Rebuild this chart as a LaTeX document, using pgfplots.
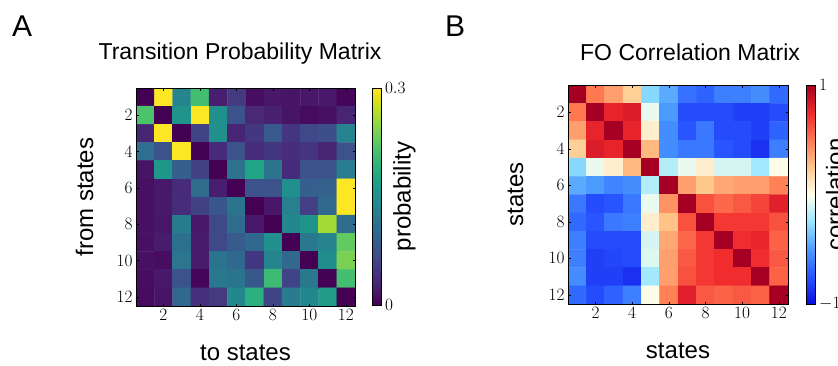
\documentclass[border=0pt]{standalone}
\usepackage{fontspec}
\setmainfont{Liberation Sans}
\usepackage{pgfplots}
\pgfplotsset{compat=1.18}
\pgfplotsset{
  colormap={corr}{rgb255(0cm)=(10,10,225); rgb255(1cm)=(40,85,255); rgb255(2cm)=(75,155,255); rgb255(3cm)=(150,230,255); rgb255(4cm)=(255,255,235); rgb255(5cm)=(255,200,140); rgb255(6cm)=(255,120,80); rgb255(7cm)=(240,40,45); rgb255(8cm)=(165,0,35)},
  mystyle/.style={
    anchor=south west, scale only axis,
    xmin=0.5, xmax=12.5, ymin=0.5, ymax=12.5, y dir=reverse,
    xtick={2,4,...,12}, ytick={2,4,...,12},
    axis on top, tick align=inside, major tick length=2.5pt,
    tick style={black, line width=0.4pt},
    axis line style={black, line width=0.6pt},
    tick label style={font=\fontsize{16.5}{19}\selectfont},
    label style={font=\fontsize{24}{28}\selectfont},
    title style={font=\fontsize{23}{27}\selectfont},
  }
}
\begin{document}
\begin{tikzpicture}
\path[use as bounding box] (0pt,0pt) rectangle (838pt,365pt);
\node[anchor=base west, inner sep=0, font=\fontsize{30}{36}\selectfont] at (12pt,328pt) {A};
\node[anchor=base west, inner sep=0, font=\fontsize{30}{36}\selectfont] at (445pt,328pt) {B};

\begin{axis}[mystyle, at={(136pt,59pt)}, width=219pt, height=218pt,
  colormap/viridis, point meta min=0, point meta max=0.3,
  title={Transition Probability Matrix},
  title style={at={(axis description cs:0.475,1)}, anchor=base, yshift=23pt},
  xlabel={to states}, ylabel={from states},
  xlabel style={at={(axis description cs:0.5,-0.248)}, anchor=base},
  ylabel style={at={(axis description cs:-0.196,0.5)}, anchor=base},
  colorbar,
  colorbar style={at={(parent axis.north east)}, anchor=north west, xshift=9pt,
    scale only axis, width=9pt, height=217pt,
    ytick={0,0.3}, yticklabels={$0$,$0.3$},
    axis line style={black, line width=0.5pt},
    major tick length=2pt, tick style={black},
    tick label style={font=\fontsize{16.5}{19}\selectfont},
    ylabel={probability},
    ylabel style={at={(axis description cs:4.22,0.5)}, anchor=base, font=\fontsize{24}{28}\selectfont},
  },
]
\addplot[matrix plot*, mesh/cols=12, point meta=explicit] table[row sep=\\, meta=c] {
x y c\\
1 1 0\\ 2 1 .30\\ 3 1 .135\\ 4 1 .21\\ 5 1 .025\\ 6 1 .05\\ 7 1 .01\\ 8 1 .018\\ 9 1 .015\\ 10 1 .018\\ 11 1 .02\\ 12 1 .003\\
1 2 .215\\ 2 2 0\\ 3 2 .155\\ 4 2 .30\\ 5 2 .15\\ 6 2 .075\\ 7 2 .033\\ 8 2 .027\\ 9 2 .015\\ 10 2 .008\\ 11 2 .012\\ 12 2 .03\\
1 3 .03\\ 2 3 .30\\ 3 3 0\\ 4 3 .06\\ 5 3 .15\\ 6 3 .03\\ 7 3 .048\\ 8 3 .084\\ 9 3 .045\\ 10 3 .065\\ 11 3 .072\\ 12 3 .135\\
1 4 .108\\ 2 4 .075\\ 3 4 .30\\ 4 4 0\\ 5 4 .036\\ 6 4 .075\\ 7 4 .037\\ 8 4 .048\\ 9 4 .038\\ 10 4 .045\\ 11 4 .03\\ 12 4 .075\\
1 5 .015\\ 2 5 .16\\ 3 5 .09\\ 4 5 .057\\ 5 5 0\\ 6 5 .114\\ 7 5 .175\\ 8 5 .114\\ 9 5 .035\\ 10 5 .075\\ 11 5 .075\\ 12 5 .126\\
1 6 .012\\ 2 6 .02\\ 3 6 .035\\ 4 6 .105\\ 5 6 .025\\ 6 6 0\\ 7 6 .075\\ 8 6 .075\\ 9 6 .15\\ 10 6 .09\\ 11 6 .095\\ 12 6 .30\\
1 7 .012\\ 2 7 .02\\ 3 7 .037\\ 4 7 .058\\ 5 7 .08\\ 6 7 .115\\ 7 7 0\\ 8 7 .018\\ 9 7 .13\\ 10 7 .055\\ 11 7 .10\\ 12 7 .30\\
1 8 .012\\ 2 8 .017\\ 3 8 .125\\ 4 8 .02\\ 5 8 .065\\ 6 8 .105\\ 7 8 .02\\ 8 8 0\\ 9 8 .14\\ 10 8 .155\\ 11 8 .26\\ 12 8 .105\\
1 9 .012\\ 2 9 .022\\ 3 9 .11\\ 4 9 .022\\ 5 9 .065\\ 6 9 .085\\ 7 9 .10\\ 8 9 .15\\ 9 9 0\\ 10 9 .12\\ 11 9 .135\\ 12 9 .228\\
1 10 .012\\ 2 10 .01\\ 3 10 .117\\ 4 10 .022\\ 5 10 .115\\ 6 10 .10\\ 7 10 .048\\ 8 10 .135\\ 9 10 .10\\ 10 10 0\\ 11 10 .148\\ 12 10 .24\\
1 11 .01\\ 2 11 .02\\ 3 11 .075\\ 4 11 .003\\ 5 11 .12\\ 6 11 .115\\ 7 11 .082\\ 8 11 .205\\ 9 11 .06\\ 10 11 .12\\ 11 11 0\\ 12 11 .21\\
1 12 .008\\ 2 12 .015\\ 3 12 .10\\ 4 12 .04\\ 5 12 .05\\ 6 12 .14\\ 7 12 .19\\ 8 12 .062\\ 9 12 .125\\ 10 12 .14\\ 11 12 .165\\ 12 12 0\\
};
\end{axis}

\begin{axis}[mystyle, at={(568pt,61pt)}, width=220pt, height=219pt,
  colormap name=corr, point meta min=-1, point meta max=1,
  title={FO Correlation Matrix},
  title style={at={(axis description cs:0.555,1)}, anchor=base, yshift=19pt},
  xlabel={states}, ylabel={states},
  xlabel style={at={(axis description cs:0.5,-0.247)}, anchor=base},
  ylabel style={at={(axis description cs:-0.2045,0.5)}, anchor=base},
  colorbar,
  colorbar style={at={(parent axis.north east)}, anchor=north west, xshift=10pt,
    scale only axis, width=9pt, height=219pt,
    ytick={-1,1}, yticklabels={$-1$,$1$},
    axis line style={black, line width=0.5pt},
    major tick length=2pt, tick style={black},
    tick label style={font=\fontsize{16.5}{19}\selectfont},
    ylabel={correlation},
    ylabel style={at={(axis description cs:4.1,0.5)}, anchor=base, font=\fontsize{24}{28}\selectfont},
  },
]
\addplot[matrix plot*, mesh/cols=12, point meta=explicit] table[row sep=\\, meta=c] {
x y c\\
1 1 1\\ 2 1 .5\\ 3 1 .38\\ 4 1 .22\\ 5 1 -.3\\ 6 1 -.45\\ 7 1 -.65\\ 8 1 -.7\\ 9 1 -.6\\ 10 1 -.6\\ 11 1 -.55\\ 12 1 -.68\\
1 2 .5\\ 2 2 1\\ 3 2 .78\\ 4 2 .82\\ 5 2 -.05\\ 6 2 -.5\\ 7 2 -.78\\ 8 2 -.78\\ 9 2 -.78\\ 10 2 -.82\\ 11 2 -.82\\ 12 2 -.78\\
1 3 .38\\ 2 3 .78\\ 3 3 1\\ 4 3 .78\\ 5 3 .08\\ 6 3 -.55\\ 7 3 -.75\\ 8 3 -.62\\ 9 3 -.78\\ 10 3 -.78\\ 11 3 -.82\\ 12 3 -.7\\
1 4 .22\\ 2 4 .82\\ 3 4 .78\\ 4 4 1\\ 5 4 .3\\ 6 4 -.55\\ 7 4 -.62\\ 8 4 -.62\\ 9 4 -.75\\ 10 4 -.78\\ 11 4 -.87\\ 12 4 -.6\\
1 5 -.3\\ 2 5 -.05\\ 3 5 .08\\ 4 5 .3\\ 5 5 1\\ 6 5 -.18\\ 7 5 -.05\\ 8 5 .08\\ 9 5 -.1\\ 10 5 -.1\\ 11 5 -.22\\ 12 5 .01\\
1 6 -.45\\ 2 6 -.5\\ 3 6 -.58\\ 4 6 -.55\\ 5 6 -.18\\ 6 6 1\\ 7 6 .38\\ 8 6 .25\\ 9 6 .35\\ 10 6 .38\\ 11 6 .38\\ 12 6 .47\\
1 7 -.62\\ 2 7 -.78\\ 3 7 -.75\\ 4 7 -.62\\ 5 7 -.05\\ 6 7 .42\\ 7 7 1\\ 8 7 .62\\ 9 7 .55\\ 10 7 .6\\ 11 7 .66\\ 12 7 .8\\
1 8 -.68\\ 2 8 -.75\\ 3 8 -.62\\ 4 8 -.6\\ 5 8 .08\\ 6 8 .27\\ 7 8 .62\\ 8 8 1\\ 9 8 .7\\ 10 8 .7\\ 11 8 .7\\ 12 8 .62\\
1 9 -.6\\ 2 9 -.78\\ 3 9 -.78\\ 4 9 -.78\\ 5 9 -.1\\ 6 9 .35\\ 7 9 .55\\ 8 9 .7\\ 9 9 1\\ 10 9 .74\\ 11 9 .77\\ 12 9 .57\\
1 10 -.6\\ 2 10 -.82\\ 3 10 -.8\\ 4 10 -.78\\ 5 10 -.08\\ 6 10 .38\\ 7 10 .6\\ 8 10 .7\\ 9 10 .74\\ 10 10 1\\ 11 10 .74\\ 12 10 .6\\
1 11 -.55\\ 2 11 -.82\\ 3 11 -.82\\ 4 11 -.87\\ 5 11 -.22\\ 6 11 .38\\ 7 11 .62\\ 8 11 .7\\ 9 11 .74\\ 10 11 .74\\ 11 11 1\\ 12 11 .57\\
1 12 -.68\\ 2 12 -.78\\ 3 12 -.7\\ 4 12 -.6\\ 5 12 .01\\ 6 12 .47\\ 7 12 .8\\ 8 12 .6\\ 9 12 .57\\ 10 12 .6\\ 11 12 .57\\ 12 12 1\\
};
\end{axis}
\end{tikzpicture}
\end{document}
